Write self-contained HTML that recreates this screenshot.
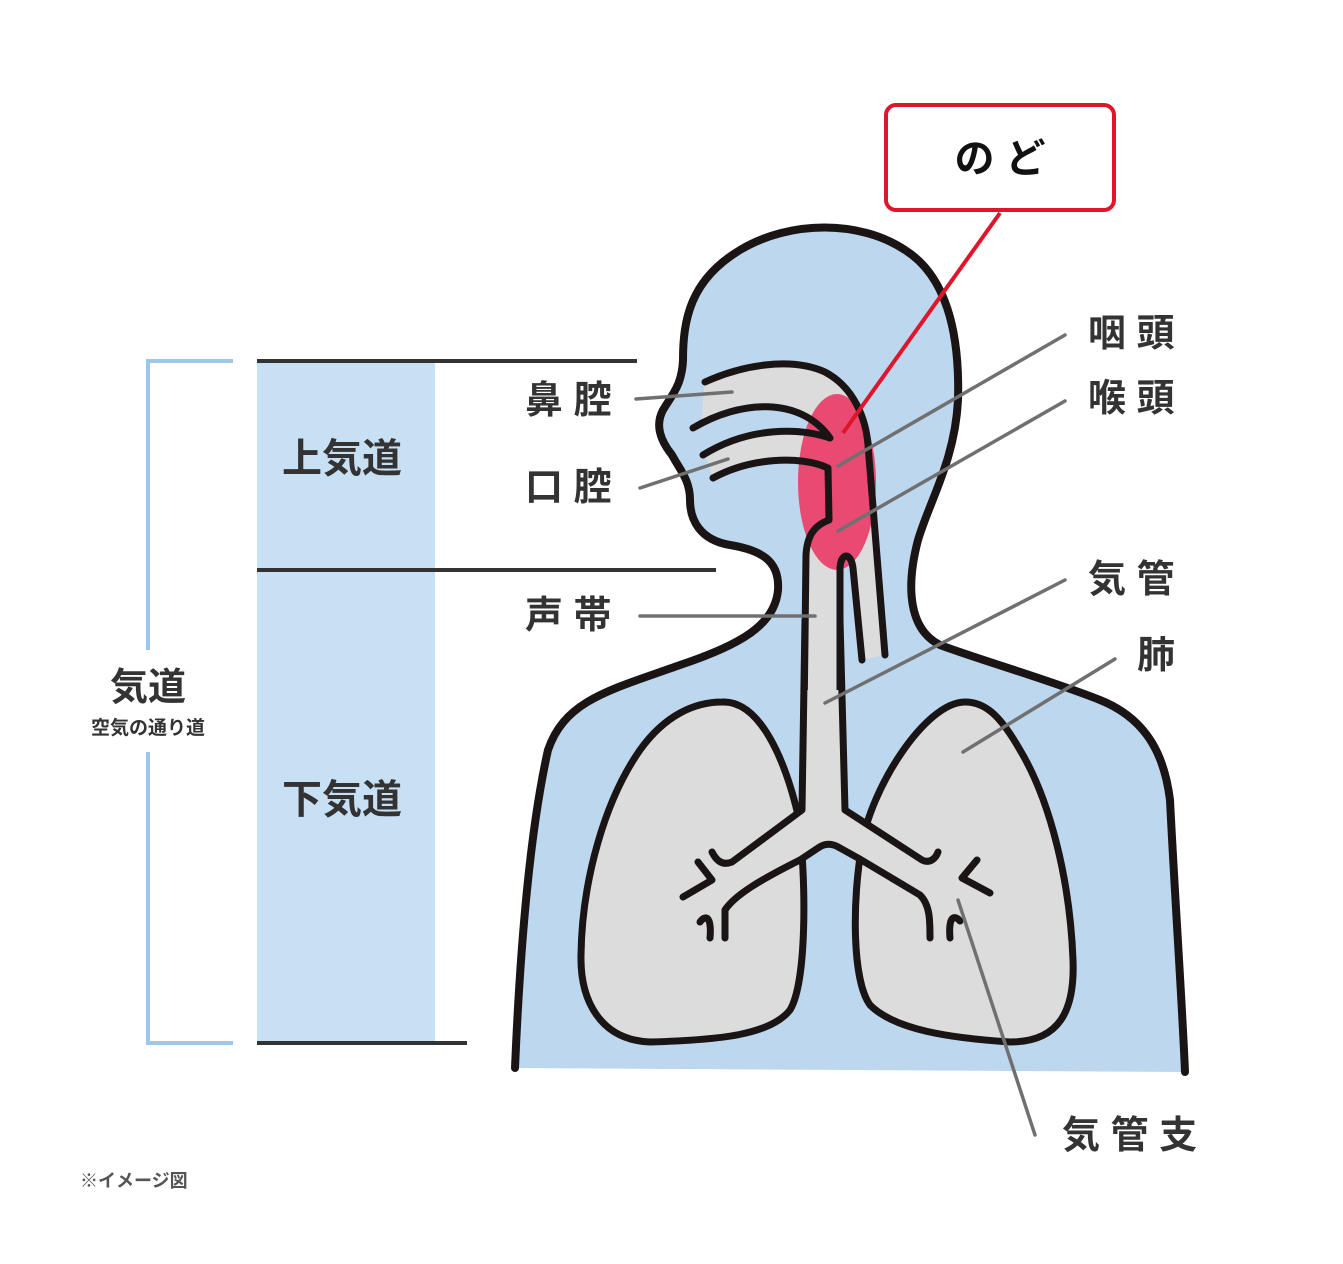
<!DOCTYPE html>
<html><head><meta charset="utf-8"><style>
html,body{margin:0;padding:0;background:#fff}
svg{display:block}
text{font-family:"Liberation Sans","Noto Sans CJK JP",sans-serif;font-weight:bold;fill:#333}
</style></head><body>
<svg width="1343" height="1264" viewBox="0 0 1343 1264" xmlns="http://www.w3.org/2000/svg">
<rect x="257" y="362" width="178" height="680" fill="#c8e0f4"/>
<line x1="257" y1="361" x2="637" y2="361" stroke="#333" stroke-width="4"/>
<line x1="257" y1="570" x2="716" y2="570" stroke="#333" stroke-width="4"/>
<line x1="257" y1="1043" x2="467" y2="1043" stroke="#333" stroke-width="4"/>
<polyline points="233,361 148,361 148,650" fill="none" stroke="#9cc7ea" stroke-width="4"/>
<polyline points="148,752 148,1043 233,1043" fill="none" stroke="#9cc7ea" stroke-width="4"/>
<text x="282" y="472" font-size="40">上気道</text>
<text x="282" y="813" font-size="40">下気道</text>
<text x="148" y="700" font-size="38" text-anchor="middle">気道</text>
<text x="148" y="734" font-size="19" text-anchor="middle">空気の通り道</text>
<text x="80" y="1187" font-size="18" style="fill:#555">※イメージ図</text>

<path d="M515,1068 C520,950 530,830 548,750 C565,700 610,690 680,665 C740,645 775,625 778,590 C780,560 760,550 730,545 C700,540 690,520 690,500 C690,480 680,470 672,455 C660,440 655,425 663,410 C672,395 682,385 683,360 C683,320 690,280 740,250 C790,220 860,220 905,250 C945,275 960,330 958,400 C955,460 930,500 918,540 C905,590 910,630 940,645 C980,660 1050,680 1100,700 C1150,720 1165,760 1170,800 C1175,900 1182,1000 1185,1072 Z" fill="#bdd7ef"/>
<path d="M515,1068 C520,950 530,830 548,750 C565,700 610,690 680,665 C740,645 775,625 778,590 C780,560 760,550 730,545 C700,540 690,520 690,500 C690,480 680,470 672,455 C660,440 655,425 663,410 C672,395 682,385 683,360 C683,320 690,280 740,250 C790,220 860,220 905,250 C945,275 960,330 958,400 C955,460 930,500 918,540 C905,590 910,630 940,645 C980,660 1050,680 1100,700 C1150,720 1165,760 1170,800 C1175,900 1182,1000 1185,1072" fill="none" stroke="#1a1414" stroke-width="8" stroke-linecap="round"/>

<path d="M705,382 C740,366 790,358 830,375 C855,392 866,420 868,440 L885,655 L862,660 L850,560 L838,560 L838,700 L805,700 L805,540 L830,520 L830,470 C800,458 750,458 713,478 L705,455 L700,430 Z" fill="#dcdcdc"/>
<path d="M693,428 C740,400 800,398 830,438 C800,428 750,426 703,455 Z" fill="#bdd7ef"/>
<ellipse cx="837" cy="482" rx="39" ry="88" fill="#e84a72"/>

<g fill="none" stroke="#1a1414" stroke-width="7" stroke-linecap="round" stroke-linejoin="round">
<path d="M705,382 C740,366 790,356 825,372 C855,388 866,420 868,445 L885,655"/>
<path d="M693,428 C740,400 800,396 830,438 C800,428 750,426 703,455"/>
<path d="M713,478 C750,458 800,455 828,468 L829,520 C815,525 807,535 806,555 L804,720"/>
<path d="M862,660 L853,568 C851,552 841,552 840,568 L840,720"/>
</g>

<path d="M722,702 C760,700 785,760 798,815 C806,870 808,980 790,1010 C770,1035 720,1040 650,1042 C600,1040 580,1000 581,955 C582,880 605,800 640,750 C665,715 695,702 722,702 Z" fill="#dcdcdc" stroke="#1a1414" stroke-width="7"/>
<path d="M965,702 C985,702 1000,715 1020,750 C1050,800 1070,880 1073,960 C1075,1010 1060,1042 1010,1042 C950,1038 895,1030 870,1005 C852,980 852,900 862,845 C870,790 925,702 965,702 Z" fill="#dcdcdc" stroke="#1a1414" stroke-width="7"/>

<path d="M806,690 L839,690 L845,810 L922,860 L940,850 L935,905 L932,938 C930,920 930,905 920,895 L858,858 L840,848 C832,843 825,843 818,848 L800,860 C760,880 735,895 725,910 L723,938 L708,852 L732,862 L802,810 Z" fill="#dcdcdc"/>
<g fill="none" stroke="#1a1414" stroke-width="7" stroke-linecap="round" stroke-linejoin="round">
<path d="M805,620 L802,810 L732,862 C722,866 716,860 712,852"/>
<path d="M840,620 L845,810 L922,860 C930,864 936,858 938,852"/>
<path d="M725,938 L725,910 C735,895 760,880 800,860 L818,848 C825,843 832,843 840,848 L858,858 L920,895 C930,905 930,920 930,938"/>
<path d="M698,862 L712,880 L683,897"/>
<path d="M977,860 L962,878 L990,893"/>
<path d="M700,922 C705,915 712,915 710,938"/>
<path d="M960,921 C955,915 948,915 950,938"/>
</g>

<g stroke="#707070" stroke-width="3.5" stroke-linecap="round">
<line x1="636" y1="399" x2="732" y2="392"/>
<line x1="640" y1="488" x2="728" y2="459"/>
<line x1="640" y1="616" x2="815" y2="616"/>
<line x1="838" y1="466" x2="1065" y2="335"/>
<line x1="838" y1="531" x2="1065" y2="401"/>
<line x1="825" y1="703" x2="1065" y2="580"/>
<line x1="963" y1="752" x2="1115" y2="659"/>
<line x1="958" y1="900" x2="1035" y2="1135"/>
</g>
<line x1="843" y1="433" x2="1000" y2="213" stroke="#e0142b" stroke-width="4"/>
<rect x="886" y="105" width="228" height="105" rx="10" fill="#fff" stroke="#e0142b" stroke-width="4"/>
<text x="1000" y="172" font-size="40" text-anchor="middle" style="fill:#111">の ど</text>

<g font-size="38">
<text x="525" y="413">鼻 腔</text>
<text x="525" y="500">口 腔</text>
<text x="525" y="628">声 帯</text>
<text x="1088" y="346">咽 頭</text>
<text x="1088" y="411">喉 頭</text>
<text x="1088" y="592">気 管</text>
<text x="1137" y="668">肺</text>
<text x="1062" y="1148">気 管 支</text>
</g>
</svg>
</body></html>
